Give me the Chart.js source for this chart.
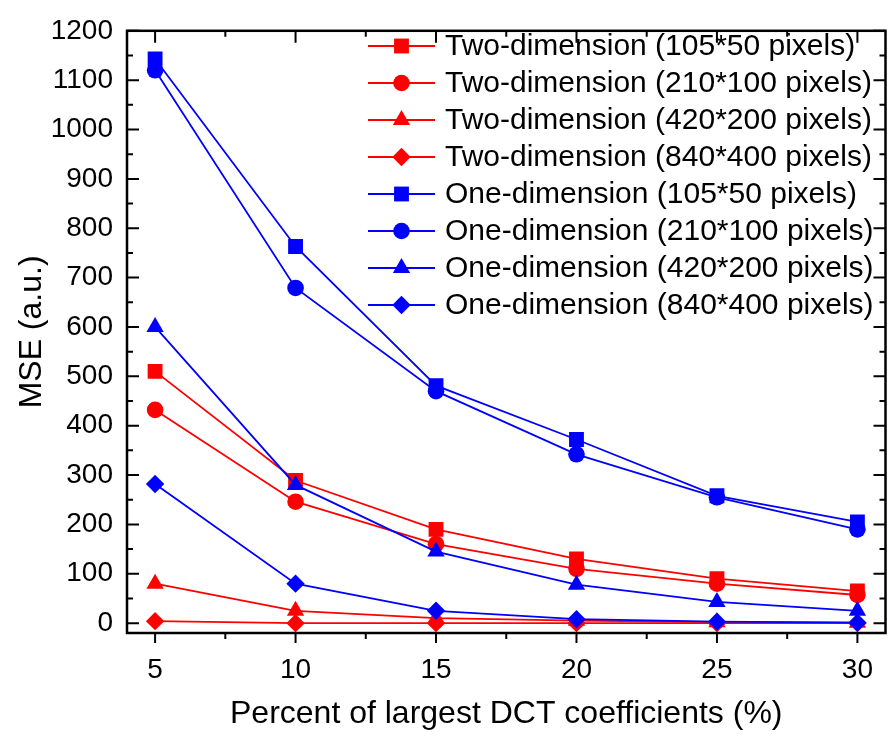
<!DOCTYPE html>
<html>
<head>
<meta charset="utf-8">
<script src="https://cdn.jsdelivr.net/npm/chart.js@4/dist/chart.umd.min.js"></script>
<style>
  html, body { margin: 0; padding: 0; background: #fff; }
</style>
</head>
<body>
<canvas id="mse" width="896" height="740"></canvas>
<script>
const percents = [5, 10, 15, 20, 25, 30];

const two105 = [510, 289, 190, 130, 90, 65];
const two210 = [432, 246, 160, 110, 80, 57];
const two420 = [80, 25, 10, 5, 2, 1];
const two840 = [4, 0, 0, 0, 0, 0];
const one105 = [1143, 763, 481, 372, 258, 205];
const one210 = [1120, 679, 470, 342, 255, 190];
const one420 = [600, 280, 145, 78, 43, 25];
const one840 = [282, 80, 25, 8, 3, 1];

const xTicks = [5, 10, 15, 20, 25, 30];
const yTicks = [0, 100, 200, 300, 400, 500, 600, 700, 800, 900, 1000, 1100, 1200];

const FONT = "'Liberation Sans', Arial, sans-serif";

function series(label, values, color, style, radius, order) {
  return {
    label: label,
    data: values.map((v, i) => ({ x: percents[i], y: v })),
    borderColor: color,
    backgroundColor: color,
    borderWidth: 1.8,
    pointStyle: style,
    pointRadius: radius,
    pointHoverRadius: radius,
    pointBorderWidth: 0,
    order: order
  };
}

// frame with inward ticks (bottom ticks outward), like the Origin plot
const frameTicks = {
  id: 'frameTicks',
  afterDatasetsDraw(chart) {
    const { ctx, chartArea: a, scales: { x, y } } = chart;
    ctx.save();
    ctx.strokeStyle = '#000';
    ctx.lineWidth = 2;
    ctx.beginPath();
    const xMinor = xTicks.slice(1).map((v, i) => (v + xTicks[i]) / 2);
    const yMinor = yTicks.slice(1).map((v, i) => (v + yTicks[i]) / 2);
    xTicks.forEach(v => {
      const px = x.getPixelForValue(v);
      ctx.moveTo(px, a.bottom); ctx.lineTo(px, a.bottom + 10);
      ctx.moveTo(px, a.top); ctx.lineTo(px, a.top + 12);
    });
    xMinor.forEach(v => {
      const px = x.getPixelForValue(v);
      ctx.moveTo(px, a.bottom); ctx.lineTo(px, a.bottom + 6);
      ctx.moveTo(px, a.top); ctx.lineTo(px, a.top + 6);
    });
    yTicks.forEach(v => {
      const py = y.getPixelForValue(v);
      ctx.moveTo(a.left, py); ctx.lineTo(a.left + 12, py);
      ctx.moveTo(a.right, py); ctx.lineTo(a.right - 12, py);
    });
    yMinor.forEach(v => {
      const py = y.getPixelForValue(v);
      ctx.moveTo(a.left, py); ctx.lineTo(a.left + 6, py);
      ctx.moveTo(a.right, py); ctx.lineTo(a.right - 6, py);
    });
    ctx.stroke();
    ctx.lineWidth = 2.5;
    ctx.strokeRect(a.left, a.top, a.right - a.left, a.bottom - a.top);
    ctx.restore();
  }
};

// legend inside the plot, top right
const insideLegend = {
  id: 'insideLegend',
  afterDraw(chart) {
    const ctx = chart.ctx;
    const x0 = 368, x1 = 435, tx = 445, top = 46, step = 37;
    ctx.save();
    ctx.font = '30px ' + FONT;
    ctx.textBaseline = 'middle';
    ctx.textAlign = 'left';
    chart.data.datasets.forEach((ds, i) => {
      const yy = top + i * step;
      ctx.strokeStyle = ds.borderColor;
      ctx.lineWidth = ds.borderWidth;
      ctx.beginPath();
      ctx.moveTo(x0, yy); ctx.lineTo(x1, yy);
      ctx.stroke();
      ctx.fillStyle = ds.backgroundColor;
      Chart.helpers.drawPoint(ctx, {
        pointStyle: ds.pointStyle, radius: ds.pointRadius, rotation: 0, borderWidth: 0
      }, (x0 + x1) / 2, yy);
      ctx.fillStyle = '#000';
      ctx.fillText(ds.label, tx, yy + 1);
    });
    ctx.restore();
  }
};

new Chart(document.getElementById('mse').getContext('2d'), {
  type: 'line',
  data: {
    datasets: [
      series('Two-dimension (105*50 pixels)', two105, '#ff0000', 'rect', 10.5, 2),
      series('Two-dimension (210*100 pixels)', two210, '#ff0000', 'circle', 8.3, 2),
      series('Two-dimension (420*200 pixels)', two420, '#ff0000', 'triangle', 10, 2),
      series('Two-dimension (840*400 pixels)', two840, '#ff0000', 'rectRot', 9.2, 2),
      series('One-dimension (105*50 pixels)', one105, '#0000ff', 'rect', 10.5, 1),
      series('One-dimension (210*100 pixels)', one210, '#0000ff', 'circle', 8.3, 1),
      series('One-dimension (420*200 pixels)', one420, '#0000ff', 'triangle', 10, 1),
      series('One-dimension (840*400 pixels)', one840, '#0000ff', 'rectRot', 9.2, 1)
    ]
  },
  options: {
    responsive: false,
    animation: false,
    layout: { padding: { top: 19, right: 4, left: 0, bottom: 0 } },
    plugins: { legend: { display: false }, tooltip: { enabled: false } },
    scales: {
      x: {
        type: 'linear',
        min: 4,
        max: 31,
        afterBuildTicks: s => { s.ticks = xTicks.map(v => ({ value: v })); },
        afterFit: s => { s.height = 107; },
        grid: { display: false, drawTicks: false },
        border: { display: false },
        ticks: { color: '#000', padding: 20, font: { family: FONT, size: 28 }, callback: v => String(v) },
        title: {
          display: true,
          text: 'Percent of largest DCT coefficients (%)',
          color: '#000',
          font: { family: FONT, size: 32 },
          padding: { top: 0, bottom: 7 }
        }
      },
      y: {
        min: -20,
        max: 1200,
        afterBuildTicks: s => { s.ticks = yTicks.map(v => ({ value: v })); },
        afterFit: s => { s.width = 127; },
        grid: { display: false, drawTicks: false },
        border: { display: false },
        ticks: { color: '#000', padding: 14, font: { family: FONT, size: 28 }, callback: v => String(v) },
        title: {
          display: true,
          text: 'MSE (a.u.)',
          color: '#000',
          font: { family: FONT, size: 32 },
          padding: { top: 13, bottom: 0 }
        }
      }
    }
  },
  plugins: [frameTicks, insideLegend]
});
</script>
</body>
</html>
